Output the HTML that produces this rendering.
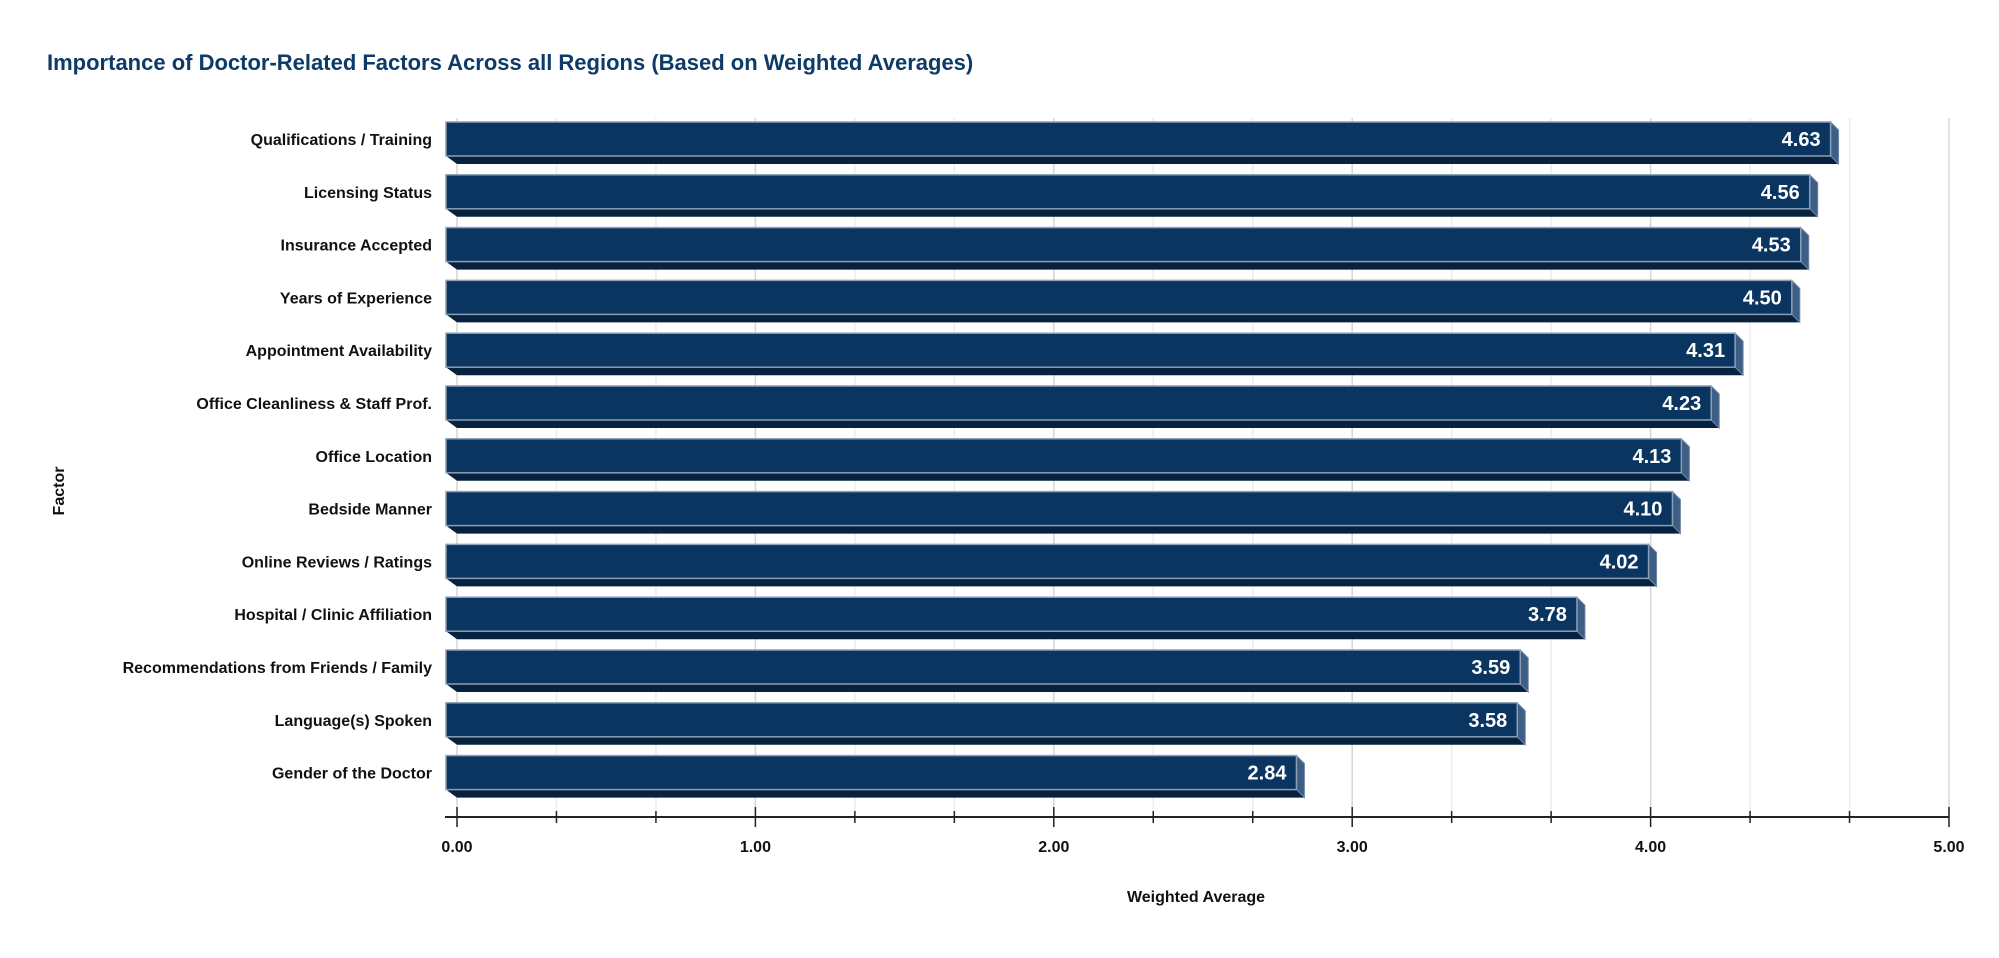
<!DOCTYPE html>
<html><head><meta charset="utf-8"><style>
html,body{margin:0;padding:0;background:#fff;}
body{width:1999px;height:953px;overflow:hidden;font-family:"Liberation Sans",sans-serif;}
</style></head><body>
<svg width="1999" height="953" xmlns="http://www.w3.org/2000/svg">
<text x="47" y="70" font-size="22" font-weight="bold" fill="#0d3a66">Importance of Doctor-Related Factors Across all Regions (Based on Weighted Averages)</text>
<g id="grid"></g>
<g id="bars"></g>
<g id="axis"></g>
<text transform="translate(64,491) rotate(-90)" text-anchor="middle" font-size="16" font-weight="bold" fill="#111">Factor</text>
<text x="1196" y="902" text-anchor="middle" font-size="16" font-weight="bold" fill="#111">Weighted Average</text>
</svg>
<script>
const categories=["Qualifications / Training","Licensing Status","Insurance Accepted","Years of Experience","Appointment Availability","Office Cleanliness & Staff Prof.","Office Location","Bedside Manner","Online Reviews / Ratings","Hospital / Clinic Affiliation","Recommendations from Friends / Family","Language(s) Spoken","Gender of the Doctor"];
const values=[4.63,4.56,4.53,4.50,4.31,4.23,4.13,4.10,4.02,3.78,3.59,3.58,2.84];
const tickLabels=["0.00","1.00","2.00","3.00","4.00","5.00"];
const xMax=5;
const NS="http://www.w3.org/2000/svg";
const X0=457,X1=1949,axisY=817,top0=122,pitch=52.8,faceH=34,d=8;
const x=v=>X0+(X1-X0)*v/xMax;
function mk(tag,attrs,parent){const e=document.createElementNS(NS,tag);for(const k in attrs)e.setAttribute(k,attrs[k]);parent.appendChild(e);return e;}
const grid=document.getElementById('grid'),bars=document.getElementById('bars'),axis=document.getElementById('axis');
for(let i=0;i<=xMax*3;i++){const v=i/3,xx=x(v);
 const g=mk('line',{x1:xx,x2:xx,y1:118,y2:axisY,stroke:i%3==0?'#d6d6d6':'#ececec','stroke-width':1.5},grid);
 
 
 const t=mk('line',{x1:xx,x2:xx,y1:axisY-(i%3==0?10:6),y2:axisY+(i%3==0?10:6),stroke:'#222','stroke-width':1.5},axis);
 
 
}
const al=mk('line',{x1:X0-12,x2:X1,y1:axisY,y2:axisY,stroke:'#222','stroke-width':2},axis);


tickLabels.forEach((s,i)=>{const t=mk('text',{x:x(i),y:852,'text-anchor':'middle','font-size':16,'font-weight':'bold',fill:'#111'},axis);t.textContent=s;
 
 });
categories.forEach((c,i)=>{
 const ty=top0+i*pitch,by=ty+faceH,xl=X0-11,xr=x(values[i])-8;
 const g=mk('g',{},bars);
 
 
 mk('polygon',{points:`${xl},${by} ${xr},${by} ${xr+d},${by+d} ${xl+d+3},${by+d}`,fill:'#06223f'},g);
 mk('polygon',{points:`${xr},${ty} ${xr+d},${ty+d} ${xr+d},${by+d} ${xr},${by}`,fill:'#3d5f86',stroke:'#6f88a6','stroke-width':1},g);
 mk('rect',{x:xl,y:ty,width:xr-xl,height:faceH,fill:'#0b3561',stroke:'#8a9fb5','stroke-width':1.5},g);
 const vt=mk('text',{x:xr-10,y:ty+faceH/2+7,'text-anchor':'end','font-size':20,'font-weight':'bold',fill:'#fff'},g);
 vt.textContent=values[i].toFixed(2);
 
 
 const lt=mk('text',{x:432,y:ty+faceH/2+6,'text-anchor':'end','font-size':16,'font-weight':'bold',fill:'#111'},bars);
 lt.textContent=c;
 
 
});
</script>
</body></html>
